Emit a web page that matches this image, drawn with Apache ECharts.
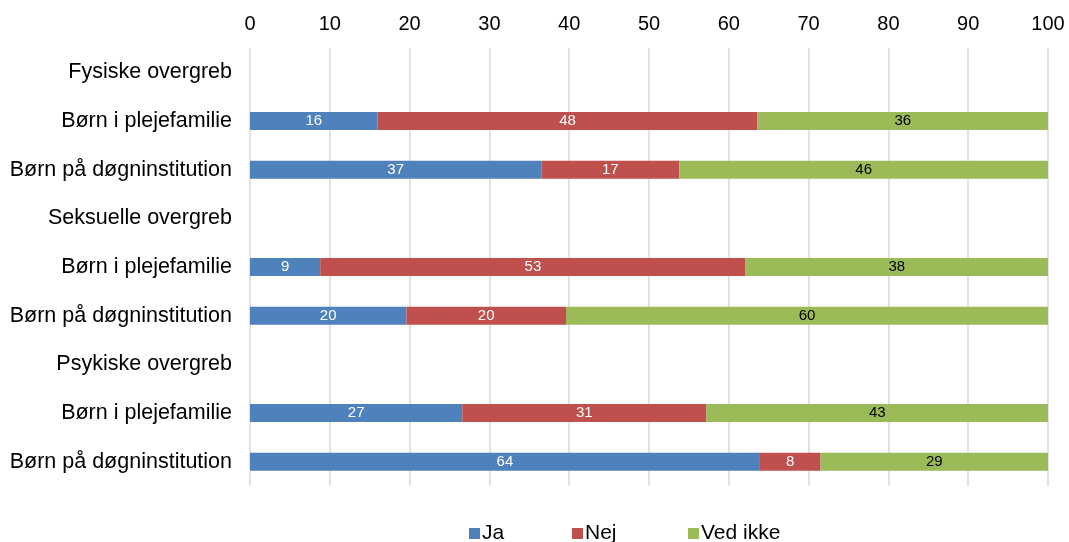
<!DOCTYPE html>
<html>
<head>
<meta charset="utf-8">
<script src="https://cdn.jsdelivr.net/npm/echarts@6/dist/echarts.min.js"></script>
<style>
html,body{margin:0;padding:0;background:#fff;}
#chart{width:1069px;height:542px;}
</style>
</head>
<body>
<div id="chart"></div>
<script>
var categories = ["Fysiske overgreb","Børn i plejefamilie","Børn på døgninstitution","Seksuelle overgreb","Børn i plejefamilie","Børn på døgninstitution","Psykiske overgreb","Børn i plejefamilie","Børn på døgninstitution"];
var ja = [null, 16.0, 36.5, null, 8.8, 19.6, null, 26.6, 63.9];
var nej = [null, 47.6, 17.3, null, 53.3, 20.0, null, 30.6, 7.6];
var vedIkke = [null, 36.4, 46.2, null, 38.0, 60.4, null, 42.9, 28.6];
var seriesNames = ["Ja","Nej","Ved ikke"];
var xTicks = {min: 0, max: 100, interval: 10};

var colors = ["#4F81BD","#C0504D","#9BBB59"];
var labelColors = ["#fff","#fff","#000"];
var font = "Liberation Sans, Arial, sans-serif";
var chart = echarts.init(document.getElementById('chart'));
function mk(name, data, i){
  return {
    name: name, type: 'bar', stack: 'total', data: data, barWidth: 18,
    itemStyle: {color: colors[i]},
    label: {show: true, position: 'inside', color: labelColors[i], fontSize: 15, fontFamily: font,
      formatter: function(p){ return p.value == null ? '' : Math.round(p.value); }},
    emphasis: {disabled: true}
  };
}
var legendLefts = [464, 567, 683];
chart.setOption({
  animation: false,
  color: colors,
  grid: {left: 250, right: 21, top: 48, bottom: 56, containLabel: false},
  legend: seriesNames.map(function(n, i){
    return {data: [n], left: legendLefts[i], top: 518, icon: 'rect', itemWidth: 11, itemHeight: 11, itemGap: 0,
      textStyle: {fontSize: 21, fontFamily: font, color: '#000', padding: [0,0,0,-3]}, selectedMode: false};
  }),
  xAxis: {
    type: 'value', position: 'top', min: xTicks.min, max: xTicks.max, interval: xTicks.interval,
    axisLine: {show: false}, axisTick: {show: false},
    axisLabel: {fontSize: 20, fontFamily: font, color: '#000', margin: 14},
    splitLine: {show: true, lineStyle: {color: '#d9d9d9', width: 1.5}}
  },
  yAxis: {
    type: 'category', data: categories, inverse: true,
    axisLine: {show: false}, axisTick: {show: false},
    axisLabel: {fontSize: 21.5, fontFamily: font, color: '#000', margin: 18}
  },
  series: [mk(seriesNames[0], ja, 0), mk(seriesNames[1], nej, 1), mk(seriesNames[2], vedIkke, 2)]
});
</script>
</body>
</html>
